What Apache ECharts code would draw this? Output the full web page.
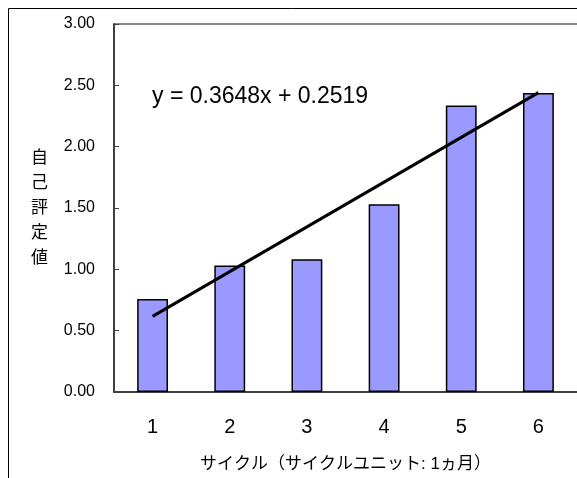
<!DOCTYPE html>
<html><head><meta charset="utf-8">
<script src="https://cdn.jsdelivr.net/npm/echarts@6/dist/echarts.min.js"></script>
<style>html,body{margin:0;padding:0;background:#fff}#c{width:577px;height:478px}</style>
</head><body><div id="c"></div>
<script>
const categories = ['1','2','3','4','5','6'];
const values = [0.758, 1.032, 1.083, 1.53, 2.335, 2.437];
const yTicks = [0, 0.5, 1, 1.5, 2, 2.5, 3];
const slope = 0.3648, intercept = 0.2519;
const trend = categories.map(c => slope * Number(c) + intercept);
const FONT = '"Liberation Sans", "Noto Sans CJK JP", sans-serif';

const chart = echarts.init(document.getElementById('c'));
chart.setOption({
  animation: false,
  grid: {left: 114, top: 24, width: 465, bottom: 81, show: true, borderColor: '#888', borderWidth: 0},
  xAxis: {
    type: 'category', data: categories, boundaryGap: true,
    axisLine: {lineStyle: {color: '#404040', width: 2}},
    axisTick: {inside: true, length: 5, lineStyle: {color: '#404040'}},
    axisLabel: {fontSize: 20, color: '#000', margin: 25, fontFamily: FONT},
    name: 'サイクル（サイクルユニット: 1ヵ月）', nameLocation: 'middle', nameGap: 64,
    nameTextStyle: {fontSize: 17, color: '#000', fontFamily: FONT}
  },
  yAxis: {
    type: 'value', min: 0, max: 3, interval: 0.5,
    axisLine: {show: true, lineStyle: {color: '#404040', width: 2}},
    axisTick: {show: true, inside: true, length: 5, lineStyle: {color: '#404040'}},
    splitLine: {show: false},
    axisLabel: {fontSize: 16, color: '#000', margin: 19, fontFamily: FONT,
      formatter: v => v.toFixed(2)},
    name: '自\n己\n評\n定\n値', nameLocation: 'middle', nameGap: 66, nameRotate: 0,
    nameTextStyle: {fontSize: 17, color: '#000', lineHeight: 25, fontFamily: FONT}
  },
  graphic: [
    {type: 'line', shape: {x1: 114, y1: 24, x2: 577, y2: 24}, style: {stroke: '#888', lineWidth: 2}},
    {type: 'polyline', shape: {points: [[8.5, 478], [8.5, 8.5], [577, 8.5]]}, style: {stroke: '#000', lineWidth: 1, fill: null}},
    {type: 'text', left: 152, top: 85, style: {text: 'y = 0.3648x + 0.2519', fontSize: 23, fill: '#000', fontFamily: FONT}}
  ],
  series: [
    {type: 'bar', data: values, barWidth: '40%',
     itemStyle: {color: '#9999FF', borderColor: '#000', borderWidth: 1.5}},
    {type: 'line', data: trend, showSymbol: false, symbol: 'none',
     lineStyle: {color: '#000', width: 3}, z: 5}
  ]
});
</script></body></html>
